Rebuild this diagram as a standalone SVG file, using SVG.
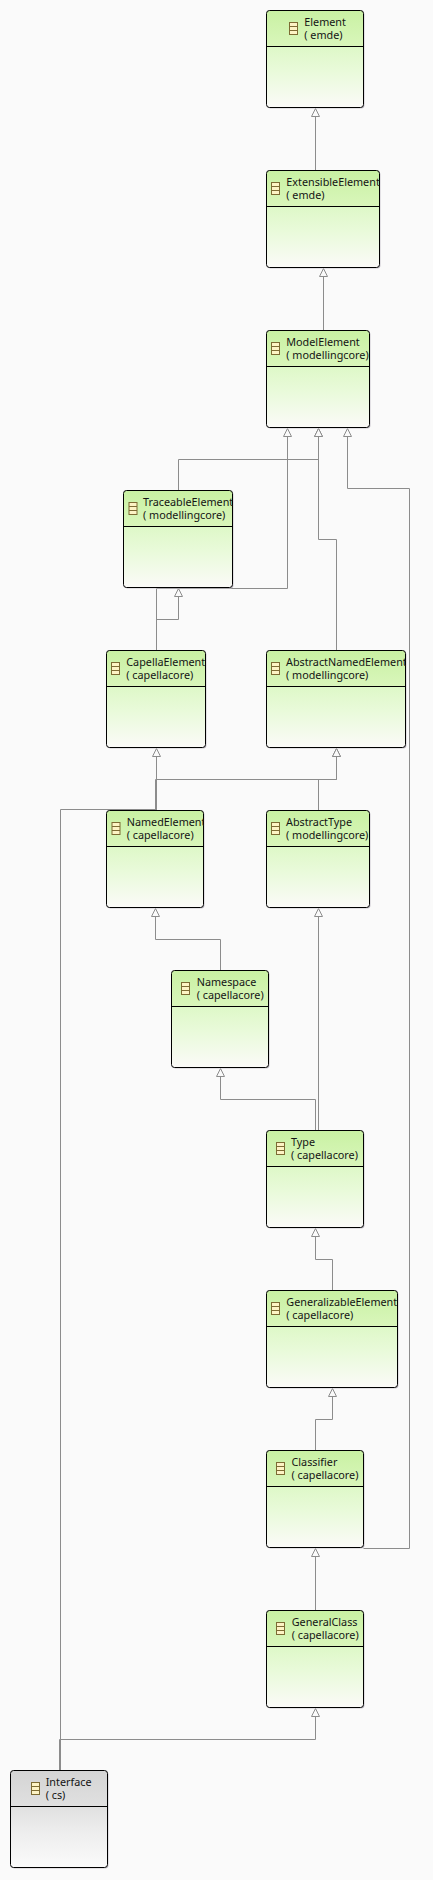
<svg xmlns="http://www.w3.org/2000/svg" width="433" height="1880" viewBox="0 0 433 1880">
<style>
.bg{fill:#fafafa}
.sh{fill:#cbc8d0}
.box{stroke:#000;stroke-width:1}
.g{fill:url(#green)}
.y{fill:url(#grey)}
.hd{stroke:#000;stroke-width:1}
.t{font-family:"Noto Sans","DejaVu Sans",sans-serif;font-size:10.8px;fill:#141414}
.c{fill:none;stroke:#8c8c8c;stroke-width:1;marker-end:url(#tri)}
.p{fill:none;stroke:#8c8c8c;stroke-width:1}
.ic{fill:#fdf3c4;stroke:#7d6b33;stroke-width:1}
</style>
<defs>
<linearGradient id="green" x1="0" y1="0" x2="0" y2="1">
<stop offset="0" stop-color="#c9f1a3"/><stop offset=".37" stop-color="#d9f6bb"/><stop offset=".38" stop-color="#def8c8"/><stop offset=".6" stop-color="#e8fad8"/><stop offset="1" stop-color="#fbfaf8"/>
</linearGradient>
<linearGradient id="grey" x1="0" y1="0" x2="0" y2="1">
<stop offset="0" stop-color="#d4d4d4"/><stop offset=".37" stop-color="#e0e0e0"/><stop offset=".6" stop-color="#ececec"/><stop offset="1" stop-color="#fbfbfb"/>
</linearGradient>
<marker id="tri" markerUnits="userSpaceOnUse" markerWidth="12" markerHeight="12" refX="9" refY="5" orient="auto">
<path d="M1 1L9 5L1 9Z" fill="#fafafa" stroke="#8c8c8c" stroke-width="1"/>
</marker>
<g id="ic"><rect class="ic" x=".5" y=".5" width="8" height="12"/><path class="ic" d="M.5 4.5H8.5M.5 8.5H8.5"/></g>
<clipPath id="c1"><rect x="266" y="10" width="98" height="36"/></clipPath>
<clipPath id="c2"><rect x="266" y="170" width="114" height="36"/></clipPath>
<clipPath id="c3"><rect x="266" y="330" width="104" height="36"/></clipPath>
<clipPath id="c4"><rect x="123" y="490" width="110" height="36"/></clipPath>
<clipPath id="c5"><rect x="106" y="650" width="100" height="36"/></clipPath>
<clipPath id="c6"><rect x="266" y="650" width="140" height="36"/></clipPath>
<clipPath id="c7"><rect x="106" y="810" width="98" height="36"/></clipPath>
<clipPath id="c8"><rect x="266" y="810" width="104" height="36"/></clipPath>
<clipPath id="c9"><rect x="171" y="970" width="98" height="36"/></clipPath>
<clipPath id="c10"><rect x="266" y="1130" width="98" height="36"/></clipPath>
<clipPath id="c11"><rect x="266" y="1290" width="132" height="36"/></clipPath>
<clipPath id="c12"><rect x="266" y="1450" width="98" height="36"/></clipPath>
<clipPath id="c13"><rect x="266" y="1610" width="98" height="36"/></clipPath>
<clipPath id="c14"><rect x="10" y="1770" width="98" height="36"/></clipPath>
</defs>
<rect class="bg" width="433" height="1880"/>
<g id="connectors">
<path class="c" d="M315.5 170.5V108.5"/>
<path class="c" d="M323.5 330.5V268.5"/>
<path class="c" d="M178.5 490.5V459.5H318.5V428.5"/>
<path class="c" d="M156.5 650.5V588.5H287.5V428.5"/>
<path class="c" d="M336.5 650.5V539.5H318.5V428.5"/>
<path class="c" d="M363.5 1548.5H409.5V488.5H347.5V428.5"/>
<path class="c" d="M156.5 650.5V619.5H178.5V588.5"/>
<path class="c" d="M156.5 810.5V748.5"/>
<path class="c" d="M155.5 810.5V779.5H336.5V748.5"/>
<path class="c" d="M318.5 810.5V779.5H336.5V748.5"/>
<path class="p" d="M60.5 1770.5V809.5H155.5"/>
<path class="c" d="M220.5 970.5V939.5H155.5V908.5"/>
<path class="c" d="M318.5 1130.5V908.5"/>
<path class="c" d="M315.5 1130.5V1099.5H220.5V1068.5"/>
<path class="c" d="M332.5 1290.5V1259.5H315.5V1228.5"/>
<path class="c" d="M315.5 1450.5V1419.5H332.5V1388.5"/>
<path class="c" d="M315.5 1610.5V1548.5"/>
<path class="c" d="M59.5 1770.5V1739.5H315.5V1708.5"/>
</g>
<g id="Element"><rect class="sh" x="267.5" y="11.5" width="97" height="97" rx="3"/><rect class="box g" x="266.5" y="10.5" width="97" height="97" rx="3"/><path class="hd" d="M266.5 46.5H363.5"/><use href="#ic" x="289" y="22"/><g clip-path="url(#c1)"><text class="t" x="304.3" y="26">Element</text><text class="t" x="304.3" y="39">( emde)</text></g></g>
<g id="ExtensibleElement"><rect class="sh" x="267.5" y="171.5" width="113" height="97" rx="3"/><rect class="box g" x="266.5" y="170.5" width="113" height="97" rx="3"/><path class="hd" d="M266.5 206.5H379.5"/><use href="#ic" x="271" y="182"/><g clip-path="url(#c2)"><text class="t" x="286.3" y="186">ExtensibleElement</text><text class="t" x="286.3" y="199">( emde)</text></g></g>
<g id="ModelElement"><rect class="sh" x="267.5" y="331.5" width="103" height="97" rx="3"/><rect class="box g" x="266.5" y="330.5" width="103" height="97" rx="3"/><path class="hd" d="M266.5 366.5H369.5"/><use href="#ic" x="271" y="342"/><g clip-path="url(#c3)"><text class="t" x="286.3" y="346">ModelElement</text><text class="t" x="286.3" y="359">( modellingcore)</text></g></g>
<g id="TraceableElement"><rect class="sh" x="124.5" y="491.5" width="109" height="97" rx="3"/><rect class="box g" x="123.5" y="490.5" width="109" height="97" rx="3"/><path class="hd" d="M123.5 526.5H232.5"/><use href="#ic" x="128.5" y="502"/><g clip-path="url(#c4)"><text class="t" x="143" y="506">TraceableElement</text><text class="t" x="143" y="519">( modellingcore)</text></g></g>
<g id="CapellaElement"><rect class="sh" x="107.5" y="651.5" width="99" height="97" rx="3"/><rect class="box g" x="106.5" y="650.5" width="99" height="97" rx="3"/><path class="hd" d="M106.5 686.5H205.5"/><use href="#ic" x="111" y="662"/><g clip-path="url(#c5)"><text class="t" x="126.3" y="666">CapellaElement</text><text class="t" x="126.3" y="679">( capellacore)</text></g></g>
<g id="AbstractNamedElement"><rect class="sh" x="267.5" y="651.5" width="139" height="97" rx="3"/><rect class="box g" x="266.5" y="650.5" width="139" height="97" rx="3"/><path class="hd" d="M266.5 686.5H405.5"/><use href="#ic" x="271" y="662"/><g clip-path="url(#c6)"><text class="t" x="286" y="666">AbstractNamedElement</text><text class="t" x="286" y="679">( modellingcore)</text></g></g>
<g id="NamedElement"><rect class="sh" x="107.5" y="811.5" width="97" height="97" rx="3"/><rect class="box g" x="106.5" y="810.5" width="97" height="97" rx="3"/><path class="hd" d="M106.5 846.5H203.5"/><use href="#ic" x="111.5" y="822"/><g clip-path="url(#c7)"><text class="t" x="126.7" y="826">NamedElement</text><text class="t" x="126.7" y="839">( capellacore)</text></g></g>
<g id="AbstractType"><rect class="sh" x="267.5" y="811.5" width="103" height="97" rx="3"/><rect class="box g" x="266.5" y="810.5" width="103" height="97" rx="3"/><path class="hd" d="M266.5 846.5H369.5"/><use href="#ic" x="271" y="822"/><g clip-path="url(#c8)"><text class="t" x="286" y="826">AbstractType</text><text class="t" x="286" y="839">( modellingcore)</text></g></g>
<g id="Namespace"><rect class="sh" x="172.5" y="971.5" width="97" height="97" rx="3"/><rect class="box g" x="171.5" y="970.5" width="97" height="97" rx="3"/><path class="hd" d="M171.5 1006.5H268.5"/><use href="#ic" x="181" y="982"/><g clip-path="url(#c9)"><text class="t" x="196.7" y="986">Namespace</text><text class="t" x="196.7" y="999">( capellacore)</text></g></g>
<g id="Type"><rect class="sh" x="267.5" y="1131.5" width="97" height="97" rx="3"/><rect class="box g" x="266.5" y="1130.5" width="97" height="97" rx="3"/><path class="hd" d="M266.5 1166.5H363.5"/><use href="#ic" x="276" y="1142"/><g clip-path="url(#c10)"><text class="t" x="291" y="1146">Type</text><text class="t" x="291" y="1159">( capellacore)</text></g></g>
<g id="GeneralizableElement"><rect class="sh" x="267.5" y="1291.5" width="131" height="97" rx="3"/><rect class="box g" x="266.5" y="1290.5" width="131" height="97" rx="3"/><path class="hd" d="M266.5 1326.5H397.5"/><use href="#ic" x="271" y="1302"/><g clip-path="url(#c11)"><text class="t" x="286.3" y="1306">GeneralizableElement</text><text class="t" x="286.3" y="1319">( capellacore)</text></g></g>
<g id="Classifier"><rect class="sh" x="267.5" y="1451.5" width="97" height="97" rx="3"/><rect class="box g" x="266.5" y="1450.5" width="97" height="97" rx="3"/><path class="hd" d="M266.5 1486.5H363.5"/><use href="#ic" x="276" y="1462"/><g clip-path="url(#c12)"><text class="t" x="291.5" y="1466">Classifier</text><text class="t" x="291.5" y="1479">( capellacore)</text></g></g>
<g id="GeneralClass"><rect class="sh" x="267.5" y="1611.5" width="97" height="97" rx="3"/><rect class="box g" x="266.5" y="1610.5" width="97" height="97" rx="3"/><path class="hd" d="M266.5 1646.5H363.5"/><use href="#ic" x="276" y="1622"/><g clip-path="url(#c13)"><text class="t" x="291.7" y="1626">GeneralClass</text><text class="t" x="291.7" y="1639">( capellacore)</text></g></g>
<g id="Interface"><rect class="sh" x="11.5" y="1771.5" width="97" height="97" rx="3"/><rect class="box y" x="10.5" y="1770.5" width="97" height="97" rx="3"/><path class="hd" d="M10.5 1806.5H107.5"/><use href="#ic" x="31" y="1782"/><g clip-path="url(#c14)"><text class="t" x="45.7" y="1786">Interface</text><text class="t" x="45.7" y="1799">( cs)</text></g></g>
</svg>
